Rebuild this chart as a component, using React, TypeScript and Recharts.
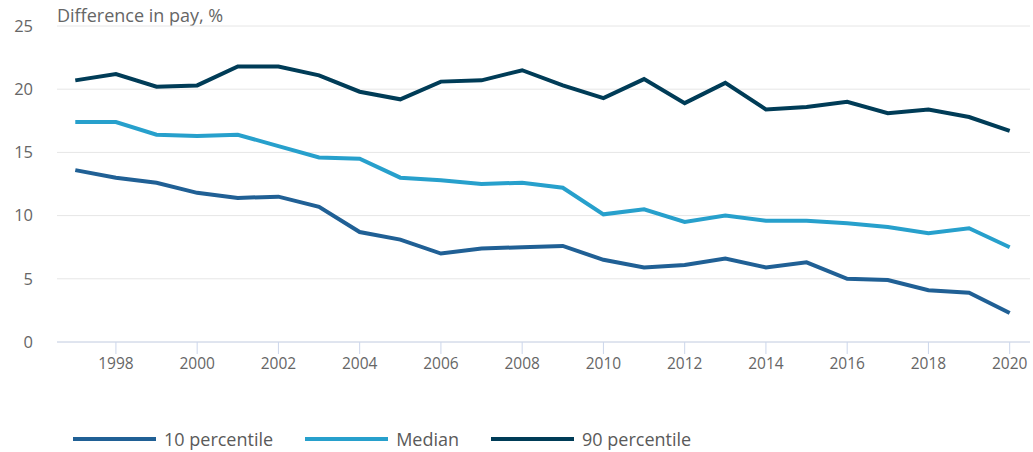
import { LineChart, Line, XAxis, YAxis, CartesianGrid, Legend } from 'recharts';

const years = [1997, 1998, 1999, 2000, 2001, 2002, 2003, 2004, 2005, 2006, 2007, 2008, 2009, 2010, 2011, 2012, 2013, 2014, 2015, 2016, 2017, 2018, 2019, 2020];
const p10 = [13.6, 13.0, 12.6, 11.8, 11.4, 11.5, 10.7, 8.7, 8.1, 7.0, 7.4, 7.5, 7.6, 6.5, 5.9, 6.1, 6.6, 5.9, 6.3, 5.0, 4.9, 4.1, 3.9, 2.3];
const median = [17.4, 17.4, 16.4, 16.3, 16.4, 15.5, 14.6, 14.5, 13.0, 12.8, 12.5, 12.6, 12.2, 10.1, 10.5, 9.5, 10.0, 9.6, 9.6, 9.4, 9.1, 8.6, 9.0, 7.5];
const p90 = [20.7, 21.2, 20.2, 20.3, 21.8, 21.8, 21.1, 19.8, 19.2, 20.6, 20.7, 21.5, 20.3, 19.3, 20.8, 18.9, 20.5, 18.4, 18.6, 19.0, 18.1, 18.4, 17.8, 16.7];
const xTicks = [1998, 2000, 2002, 2004, 2006, 2008, 2010, 2012, 2014, 2016, 2018, 2020];
const yTicks = [0, 5, 10, 15, 20, 25];

const series = [
  { key: 'p10', name: '10 percentile', color: '#206095' },
  { key: 'median', name: 'Median', color: '#27a0cc' },
  { key: 'p90', name: '90 percentile', color: '#003c57' },
];

const data = years.map((year, i) => ({ year, p10: p10[i], median: median[i], p90: p90[i] }));

const font = '"Open Sans", "Noto Sans", sans-serif';

function LegendContent() {
  return (
    <div style={{ display: 'flex', alignItems: 'center', paddingLeft: 73, fontFamily: font, fontSize: 18, color: '#5a5a5a' }}>
      {series.map((s) => (
        <div key={s.key} style={{ display: 'flex', alignItems: 'center', marginRight: 32 }}>
          <div style={{ width: 83, height: 4, background: s.color, marginRight: 8 }} />
          <span>{s.name}</span>
        </div>
      ))}
    </div>
  );
}

export default function App() {
  return (
    <div style={{ position: 'absolute', left: 0, top: 0, width: 1033, height: 452, background: '#fff', fontFamily: font }}>
      <div style={{ position: 'absolute', left: 57, top: 3, fontSize: 18, color: '#666', fontFamily: font, lineHeight: 'normal' }}>
        Difference in pay, %
      </div>
      <LineChart width={1033} height={452} data={data} margin={{ top: 26, right: 3, left: 0, bottom: 40 }}>
        <CartesianGrid vertical={false} stroke="#e6e6e6" />
        <XAxis
          dataKey="year"
          type="number"
          domain={[1996.55, 2020.5]}
          ticks={xTicks}
          interval={0}
          height={40}
          tickSize={12}
          tickMargin={4}
          stroke="#ccd6eb"
          tick={{ fill: '#666', fontSize: 15.5, fontFamily: font }}
        />
        <YAxis
          domain={[0, 25]}
          ticks={yTicks}
          width={57}
          axisLine={false}
          tickLine={false}
          tickSize={0}
          tickMargin={24}
          tick={{ fill: '#666', fontSize: 16.5, fontFamily: font }}
        />
        <Legend
          verticalAlign="bottom"
          align="left"
          height={30}
          wrapperStyle={{ top: 427, bottom: 'auto', left: 0 }}
          content={<LegendContent />}
        />
        {series.map((s) => (
          <Line
            key={s.key}
            type="linear"
            dataKey={s.key}
            name={s.name}
            stroke={s.color}
            strokeWidth={4}
            dot={false}
            isAnimationActive={false}
          />
        ))}
      </LineChart>
    </div>
  );
}
